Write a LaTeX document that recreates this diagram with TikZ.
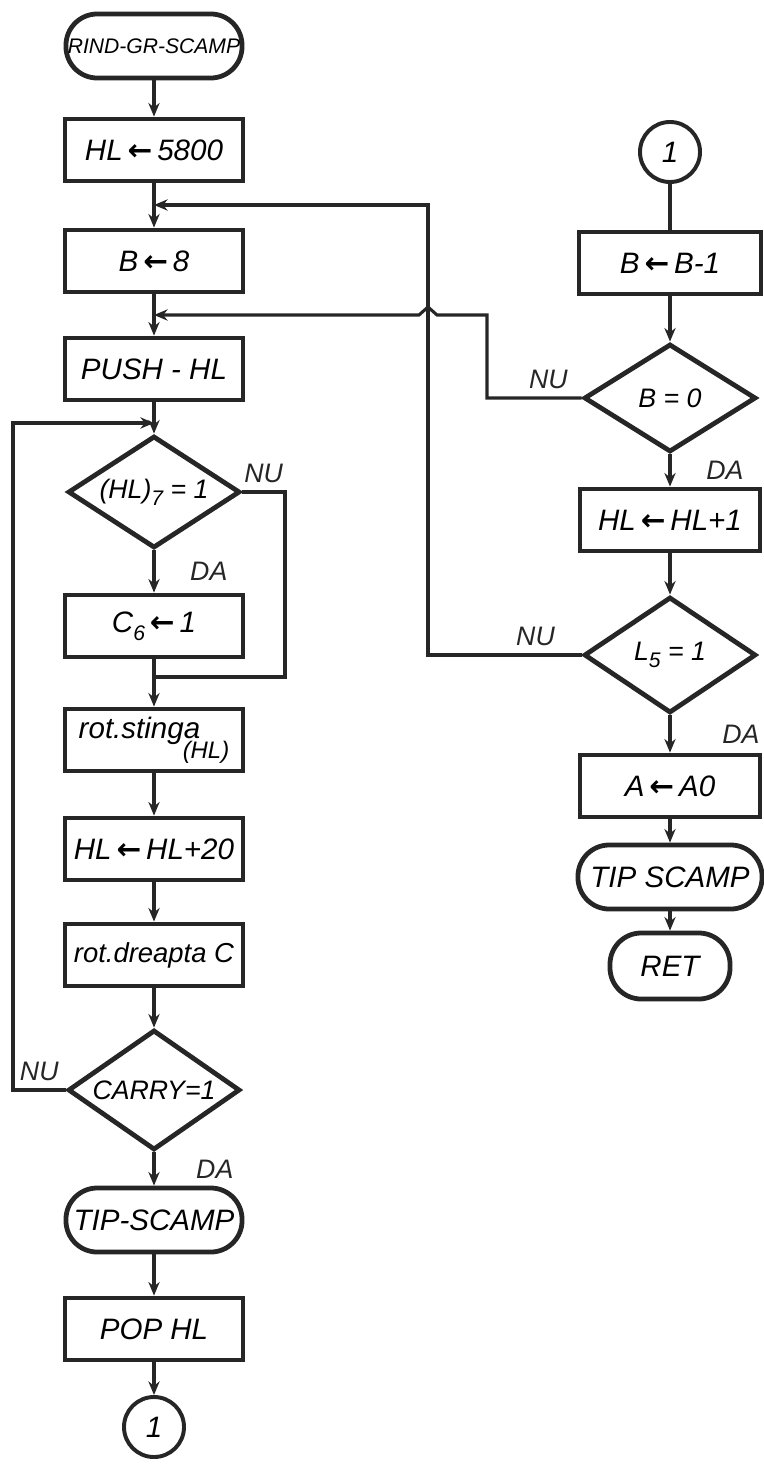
\documentclass[tikz,border=0pt]{standalone}
\usepackage{fontspec}
\setmainfont{Liberation Sans}
\newfontfamily\arrfont{DejaVu Sans}
\usetikzlibrary{arrows.meta,shapes.geometric}
\newcommand{\getsto}{\,{\arrfont\bfseries ←}\,}
\newcommand{\lowix}[1]{\raisebox{-0.5ex}{\fontsize{15}{15}\selectfont #1}}

\begin{document}
\begin{tikzpicture}[x=0.025cm, y=-0.025cm,
    every node/.append style={font=\fontsize{21}{23}\selectfont\itshape},
    opbox/.style={rectangle, draw=black!85, line width=3.4pt, fill=white,
                  minimum width=4.45cm, minimum height=1.55cm, inner sep=1pt},
    term/.style={rectangle, rounded corners=0.78cm, draw=black!85, line width=3.4pt,
                 fill=white, minimum width=4.4cm, minimum height=1.6cm, inner sep=1pt},
    dec/.style={diamond, draw=black!85, line width=3.4pt, fill=white,
                minimum width=4.3cm, minimum height=2.85cm, inner sep=0pt,
                font=\fontsize{19}{21}\selectfont\itshape},
    conn/.style={circle, draw=black!85, line width=2.8pt, fill=white, minimum size=1.5cm},
    flow/.style={line width=2.2pt, black!85, -{Stealth[length=3.4mm, width=2.8mm]}},
    wire/.style={line width=2.2pt, black!85},
    lbl/.style={font=\fontsize{19}{19}\selectfont\itshape}
]
    \useasboundingbox (0,0) rectangle (763,1464);

    % left column
    \node[term, font=\fontsize{15}{16}\selectfont\itshape] (start) at (154,46) {RIND-GR-SCAMP};
    \node[opbox] (ld5800) at (154,150) {HL\getsto 5800};
    \node[opbox] (setb)   at (154,261) {B\getsto 8};
    \node[opbox] (pushhl) at (154,369) {PUSH - HL};
    \node[dec, minimum height=2.8cm] (tst7) at (154,492) {\makebox[0pt]{(HL)\lowix{7} = 1}};
    \node[opbox] (setc)   at (154,626) {C\lowix{6}\getsto 1};
    \node[opbox, align=left] (rotl) at (154,740)
        {rot.stinga\\[-9pt]\hspace*{2.6cm}{\fontsize{17}{17}\selectfont(HL)}};
    \node[opbox] (addhl)  at (154,849) {HL\getsto HL+20};
    \node[opbox, font=\fontsize{19.5}{21}\selectfont\itshape] (rotr) at (154,955) {rot.dreapta C};
    \node[dec, minimum height=3cm] (tstc) at (154,1090) {\makebox[0pt]{CARRY=1}};
    \node[term]  (tipl)   at (154,1220) {TIP-SCAMP};
    \node[opbox] (pophl)  at (154,1329) {POP HL};
    \node[conn]  (outc)   at (154,1427) {1};

    % right column
    \node[conn]  (inc)    at (670,152) {1};
    \node[opbox, minimum width=4.55cm] (decb)  at (670,263) {B\getsto B-1};
    \node[dec, minimum height=2.7cm] (tstb) at (670,398) {\makebox[0pt]{B = 0}};
    \node[opbox, minimum width=4.5cm]  (inchl) at (670,520) {HL\getsto HL+1};
    \node[dec, minimum height=2.9cm] (tstl) at (670,655) {\makebox[0pt]{L\lowix{5} = 1}};
    \node[opbox, minimum width=4.5cm]  (lda)   at (670,786) {A\getsto A0};
    \node[term, minimum width=4.6cm]   (tipr)  at (670,877) {TIP SCAMP};
    \node[term, minimum width=3cm, minimum height=1.65cm] (ret) at (670,966) {RET};

    \coordinate (j1) at (154,205);
    \coordinate (j2) at (154,315);
    \coordinate (j3) at (154,423);
    \coordinate (j4) at (154,677);

    \draw[flow] (start) -- (ld5800);
    \draw[flow] (ld5800) -- (setb);
    \draw[flow] (setb) -- (pushhl);
    \draw[flow] (pushhl) -- (tst7);
    \draw[flow] (tst7) -- node[lbl, right=0.75cm]{DA} (setc);
    \draw[wire] (tst7.east) -- node[lbl, above=2pt]{NU} (285,492) -- (285,677) -- (j4);
    \draw[flow] (setc) -- (rotl);
    \draw[flow] (rotl) -- (addhl);
    \draw[flow] (addhl) -- (rotr);
    \draw[flow] (rotr) -- (tstc);
    \draw[flow] (tstc) -- node[lbl, right=0.9cm]{DA} (tipl);
    \draw[flow] (tstc.west) -- node[lbl, above=2pt]{NU} (13,1090) -- (13,423) -- (j3);
    \draw[flow] (tipl) -- (pophl);
    \draw[flow] (pophl) -- (outc);

    \draw[wire] (inc) -- (decb);
    \draw[flow] (decb) -- (tstb);
    \draw[flow] (tstb) -- node[lbl, right=0.75cm]{DA} (inchl);
    \draw[flow] (inchl) -- (tstl);
    \draw[flow] (tstl) -- node[lbl, right=1.15cm]{DA} (lda);
    \draw[flow] (lda) -- (tipr);
    \draw[flow] (tipr) -- (ret);
    \draw[flow] (tstl.west) -- node[lbl, above=2pt, pos=0.3]{NU} (428,655) -- (428,205) -- (j1);
    \draw[flow] (tstb.west) -- node[lbl, above=2pt, pos=0.35]{NU} (487,398) -- (487,315)
        -- (437,315) -- (428,307) -- (419,315) -- (j2);
\end{tikzpicture}
\end{document}
